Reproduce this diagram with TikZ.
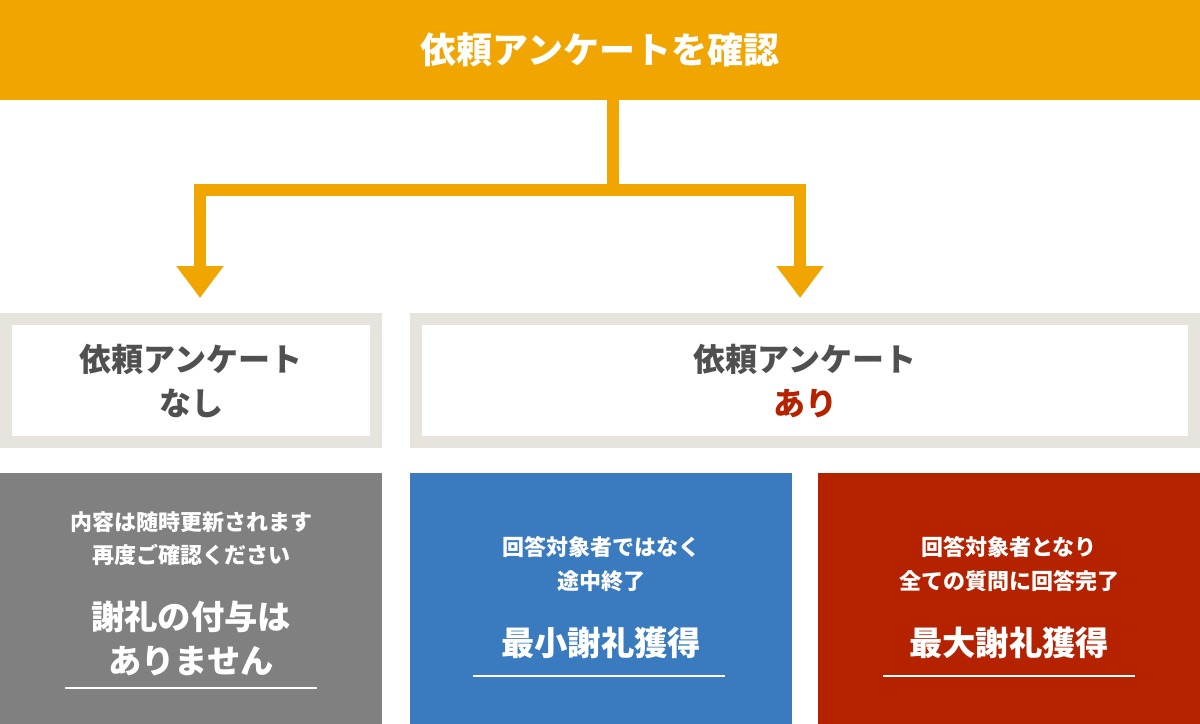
\documentclass[tikz,border=0pt]{standalone}
\usepackage{fontspec}
\setmainfont{Noto Sans CJK JP}
\usetikzlibrary{arrows.meta}
\definecolor{org}{HTML}{F0A500}
\definecolor{frm}{HTML}{E6E4DC}
\definecolor{txg}{HTML}{505050}
\definecolor{rd}{HTML}{B52200}
\definecolor{bl}{HTML}{3A7BBF}
\definecolor{gy}{HTML}{808080}
\tikzset{
 px/.style={x=0.75pt,y=-0.75pt},
 fr/.style={draw=frm,line width=9pt,fill=white},
 hd/.style={font=\bfseries\fontsize{24}{33}\selectfont,text=txg,align=center},
 sm/.style={font=\bfseries\fontsize{16.5}{25}\selectfont,text=white,align=center},
 bg/.style={font=\bfseries\fontsize{25}{33}\selectfont,text=white,align=center},
 ul/.style={draw=white,line width=1.5pt},
 con/.style={draw=org,line width=9pt},
 arr/.style={draw=org,line width=9pt,-{Triangle[width=34pt,length=24pt]}}
}
\begin{document}
\begin{tikzpicture}[px]
\useasboundingbox (0,0) rectangle (1200,724);
\fill[org] (0,0) rectangle (1200,100);
\node[font=\bfseries\fontsize{27}{30}\selectfont,text=white] (title) at (600,50) {依頼アンケートを確認};
\coordinate (j) at (613,190);
\coordinate (l) at (200,190);
\coordinate (r) at (800,190);
\coordinate (la) at (200,298);
\coordinate (ra) at (800,298);
\draw[con] (613,100) -- (j);
\draw[con,line cap=rect] (l) -- (r);
\draw[arr] (l) -- (la);
\draw[arr] (r) -- (ra);
\draw[fr] (6,319) rectangle (376,442);
\draw[fr] (416,319) rectangle (1194,442);
\node[hd] (n1) at (191,381) {依頼アンケート\\なし};
\node[hd] (n2) at (805,381) {依頼アンケート\\\textcolor{rd}{あり}};
\fill[gy] (0,473) rectangle (382,724);
\fill[bl] (410,473) rectangle (792,724);
\fill[rd] (818,473) rectangle (1200,724);
\node[sm] (g1) at (191,539) {内容は随時更新されます\\再度ご確認ください};
\node[bg] (g2) at (191,638) {謝礼の付与は\\ありません};
\draw[ul] (65,688) -- (317,688);
\node[sm] (b1) at (601,564) {回答対象者ではなく\\途中終了};
\node[bg] (b2) at (601,643) {最小謝礼獲得};
\draw[ul] (473,676) -- (725,676);
\node[sm] (r1) at (1009,564) {回答対象者となり\\全ての質問に回答完了};
\node[bg] (r2) at (1009,643) {最大謝礼獲得};
\draw[ul] (883,676) -- (1135,676);
\end{tikzpicture}
\end{document}
